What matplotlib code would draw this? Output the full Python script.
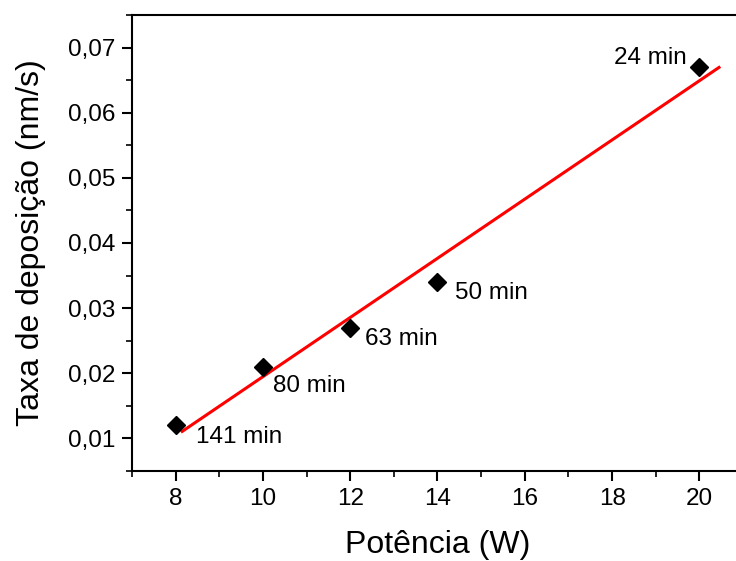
import matplotlib
matplotlib.use("Agg")
import matplotlib.pyplot as plt
import numpy as np
from matplotlib.ticker import MultipleLocator, FuncFormatter

potencia = [8, 10, 12, 14, 20]
taxa = [0.012, 0.021, 0.027, 0.034, 0.067]
tempos = ["141 min", "80 min", "63 min", "50 min", "24 min"]
fit_range = [8.15, 20.45]

plt.rcParams['font.family'] = ['Liberation Sans', 'DejaVu Sans']

fig = plt.figure(figsize=(7.36, 5.61), dpi=100)
ax = fig.add_axes([132/736, 90/561, 611/736, 456/561])

slope, intercept = np.polyfit(potencia, taxa, 1)
xf = np.array(fit_range)
ax.plot(xf, slope * xf + intercept, color='#ff0000', lw=2.2, zorder=2)
ax.plot(potencia, taxa, linestyle='none', marker='D', markersize=9,
        color='black', zorder=3)

offsets = [(0.46, -0.0018, 'left'), (0.24, -0.0029, 'left'),
           (0.33, -0.0018, 'left'), (0.39, -0.0017, 'left'),
           (-0.28, 0.0014, 'right')]
for x, y, t, (dx, dy, ha) in zip(potencia, taxa, tempos, offsets):
    ax.text(x + dx, y + dy, t, fontsize=17.5, ha=ha, va='center')

ax.set_xlim(7, 21)
ax.set_ylim(0.005, 0.075)
ax.xaxis.set_major_locator(MultipleLocator(2))
ax.xaxis.set_minor_locator(MultipleLocator(1))
ax.yaxis.set_major_locator(MultipleLocator(0.01))
ax.yaxis.set_minor_locator(MultipleLocator(0.005))
ax.yaxis.set_major_formatter(FuncFormatter(lambda v, p: f"{v:.2f}".replace('.', ',')))
ax.tick_params(which='major', direction='out', length=7, width=1.5, labelsize=17.5, pad=5)
ax.tick_params(which='minor', direction='out', length=4.5, width=1.2)
ax.tick_params(top=False, right=False)
for s in ax.spines.values():
    s.set_linewidth(1.5)

ax.set_xlabel("Potência (W)", fontsize=23, labelpad=15)
ax.set_ylabel("Taxa de deposição (nm/s)", fontsize=23, labelpad=16)

fig.savefig("out.png", dpi=100)
